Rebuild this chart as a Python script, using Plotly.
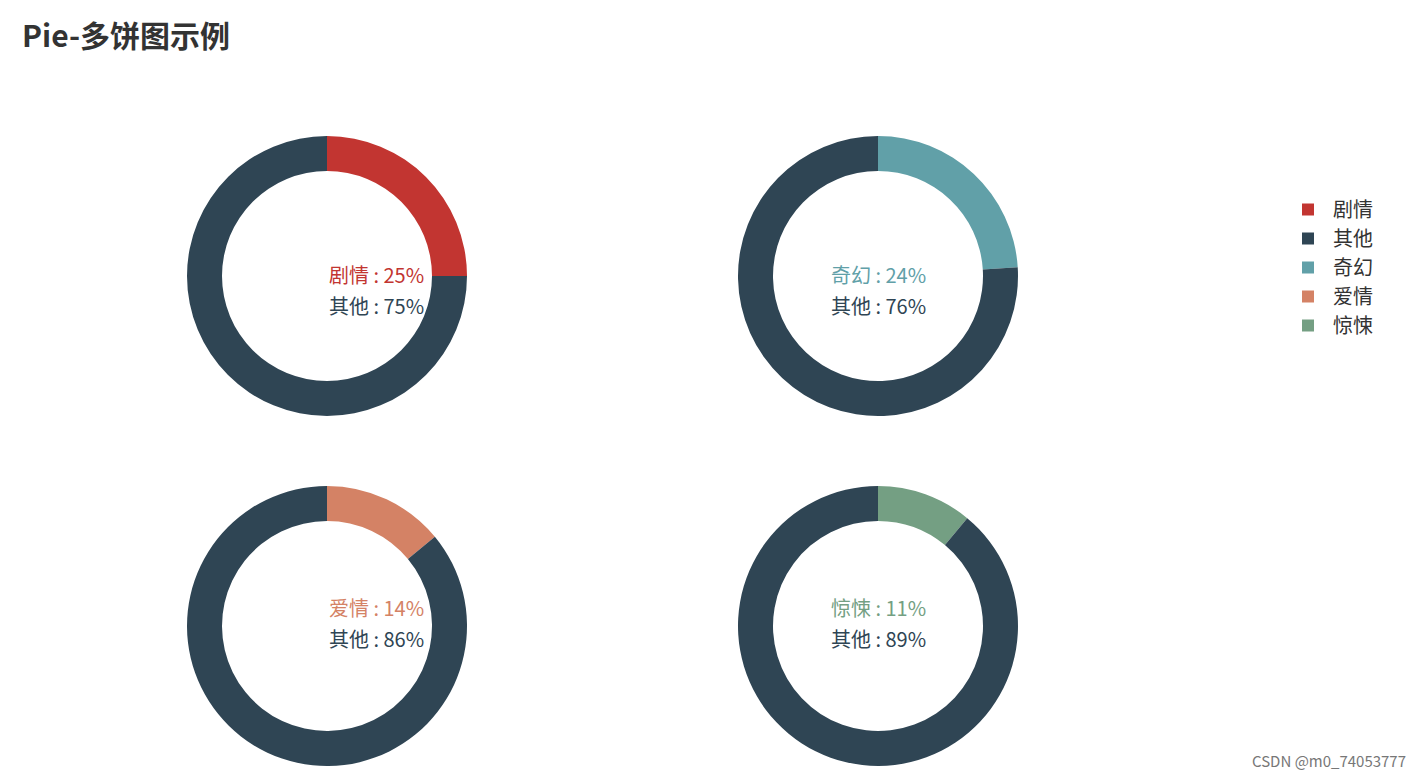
import plotly.graph_objects as go

W, H = 1416, 783
genres = ["剧情", "奇幻", "爱情", "惊悚"]
genre_pct = [25, 24, 14, 11]
other_label = "其他"
genre_colors = ["#c23531", "#61a0a8", "#d48265", "#749f83"]
other_color = "#2f4554"
centers = [(319, 268), (870, 268), (319, 618), (870, 618)]
R = 140

fig = go.Figure()
for g, p, c, (cx, cy) in zip(genres, genre_pct, genre_colors, centers):
    fig.add_trace(go.Pie(
        labels=[g, other_label], values=[p, 100 - p],
        marker=dict(colors=[c, other_color], line=dict(width=0)),
        hole=0.75, sort=False, direction="clockwise", rotation=0,
        textinfo="none", hoverinfo="label+percent",
        domain=dict(x=[(cx - R) / W, (cx + R) / W], y=[1 - (cy + R) / H, 1 - (cy - R) / H]),
    ))
    fig.add_annotation(x=cx / W, y=1 - (cy - 2) / H, xref="paper", yref="paper",
                       text=f"{g} : {p}%", showarrow=False, font=dict(size=20, color=c))
    fig.add_annotation(x=cx / W, y=1 - (cy + 29) / H, xref="paper", yref="paper",
                       text=f"{other_label} : {100 - p}%", showarrow=False, font=dict(size=20, color=other_color))

fig.add_annotation(x=1400 / W, y=1 - 765 / H, xref="paper", yref="paper", xanchor="right",
                   text="CSDN @m0_74053777", showarrow=False, font=dict(size=15, color="#777"))

fig.update_layout(
    width=W, height=H, margin=dict(l=0, r=0, t=0, b=0),
    paper_bgcolor="white", plot_bgcolor="white",
    font=dict(family="Noto Sans CJK SC, Noto Sans, sans-serif"),
    title=dict(text="<b>Pie-多饼图示例</b>", x=14 / W, xanchor="left", y=1 - 28 / H, yanchor="middle",
               font=dict(size=30, color="#333")),
    legend=dict(x=1275 / W, y=1 - 182 / H, xanchor="left", yanchor="top",
                font=dict(size=20, color="#333"), itemwidth=40, tracegroupgap=8),
)
fig.write_html("out.html")
